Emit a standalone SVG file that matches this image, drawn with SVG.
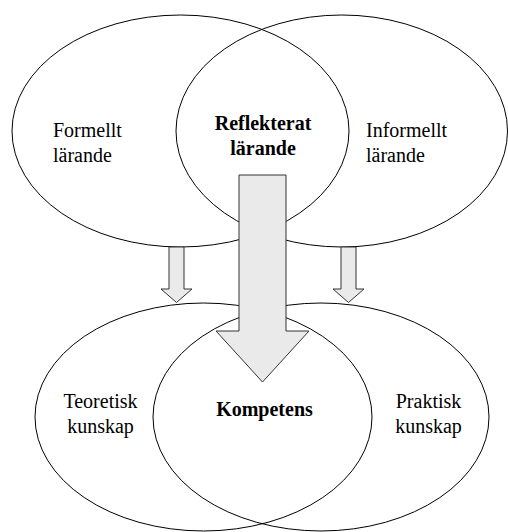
<svg xmlns="http://www.w3.org/2000/svg" width="508" height="532" viewBox="0 0 508 532">
<style>
.ell{fill:none;stroke:#000;stroke-width:1}
.arr{fill:#eaeaea;stroke:#333;stroke-width:1}
.t{font-family:'Liberation Serif',serif;font-size:20px}
.tb{font-family:'Liberation Serif',serif;font-size:20px;font-weight:bold;text-anchor:middle}
.tc{font-family:'Liberation Serif',serif;font-size:20px;text-anchor:middle}
</style>
<rect width="508" height="532" fill="#fff"/>
<g id="formellt">
<ellipse class="ell" cx="180.5" cy="131" rx="168.5" ry="116"/>
<text class="t" x="53" y="137" style="font-family:'Liberation Serif',serif">Formellt</text>
<text class="t" x="53" y="162" style="font-family:'Liberation Serif',serif">l&#228;rande</text>
</g>
<g id="informellt">
<ellipse class="ell" cx="341.75" cy="131" rx="165.75" ry="116"/>
<text class="t" x="366" y="137" style="font-family:'Liberation Serif',serif">Informellt</text>
<text class="t" x="366" y="162" style="font-family:'Liberation Serif',serif">l&#228;rande</text>
</g>
<g id="reflekterat">
<text class="tb" x="263" y="130" style="font-family:'Liberation Serif',serif">Reflekterat</text>
<text class="tb" x="263" y="155" style="font-family:'Liberation Serif',serif">l&#228;rande</text>
</g>
<g id="teoretisk">
<ellipse class="ell" cx="203.5" cy="417" rx="168.5" ry="114"/>
<text class="tc" x="100.5" y="408" style="font-family:'Liberation Serif',serif">Teoretisk</text>
<text class="tc" x="100.5" y="433" style="font-family:'Liberation Serif',serif">kunskap</text>
</g>
<g id="praktisk">
<ellipse class="ell" cx="321" cy="417" rx="168" ry="114"/>
<text class="tc" x="428.5" y="408" style="font-family:'Liberation Serif',serif">Praktisk</text>
<text class="tc" x="428.5" y="433" style="font-family:'Liberation Serif',serif">kunskap</text>
</g>
<g id="kompetens">
<text class="tb" x="264.5" y="416" style="font-family:'Liberation Serif',serif">Kompetens</text>
</g>
<g id="connectors">
<polygon class="arr" points="169,247 184,247 184,289 192,289 176.5,302.5 161,289 169,289"/>
<polygon class="arr" points="341,247 356,247 356,289 364,289 348.5,302.5 333,289 341,289"/>
<polygon class="arr" points="239,175 286,175 286,331 309,331 262.5,382 216,331 239,331"/>
</g>
</svg>
